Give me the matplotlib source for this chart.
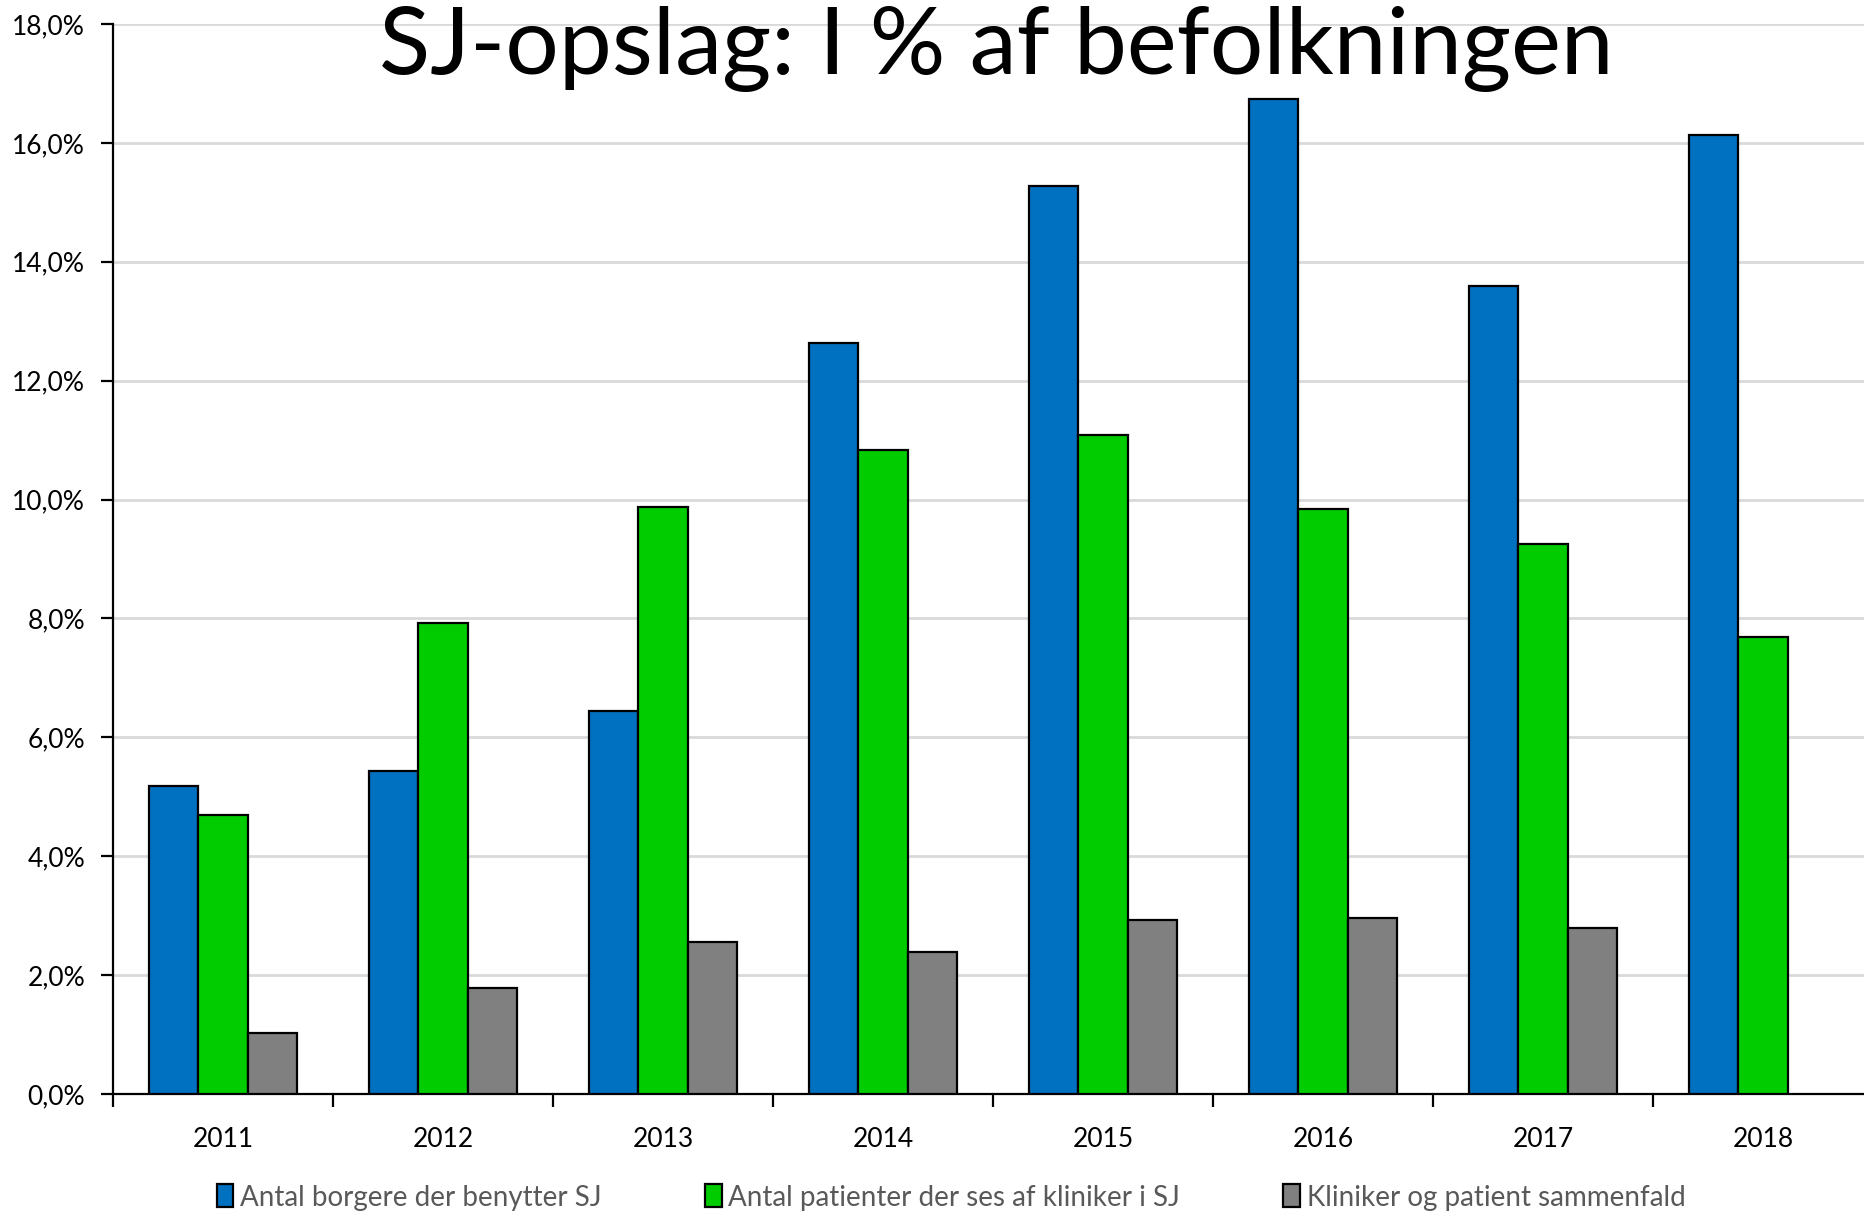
import numpy as np
import matplotlib.pyplot as plt
from matplotlib.patches import Patch
from matplotlib.ticker import FuncFormatter

plt.rcParams['font.family'] = ['Lato', 'DejaVu Sans']

years = ['2011', '2012', '2013', '2014', '2015', '2016', '2017', '2018']
borgere = [5.18, 5.44, 6.44, 12.64, 15.28, 16.74, 13.6, 16.14]
patienter = [4.7, 7.92, 9.88, 10.84, 11.08, 9.84, 9.26, 7.68]
sammenfald = [1.02, 1.78, 2.56, 2.38, 2.92, 2.96, 2.8, np.nan]

labels = ['Antal borgere der benytter SJ',
          'Antal patienter der ses af kliniker i SJ',
          'Kliniker og patient sammenfald']
colors = ['#0070C0', '#00CC00', '#808080']

fig = plt.figure(figsize=(18.65, 12.12), dpi=100)
ax = fig.add_axes([0.0606, 0.0974, 0.9437, 0.8828])

x = np.arange(len(years))
w = 0.224
for i, (vals, c) in enumerate(zip([borgere, patienter, sammenfald], colors)):
    ax.bar(x + (i - 1) * w, vals, w, color=c, edgecolor='black', linewidth=1.6, zorder=3)

ax.set_xlim(-0.5, 7.5)
ax.set_ylim(0, 18)
ax.set_yticks(np.arange(0, 19, 2))
ax.yaxis.set_major_formatter(FuncFormatter(lambda v, p: ('%.1f%%' % v).replace('.', ',')))
ax.grid(axis='y', color='#d9d9d9', linewidth=2, zorder=0)

ax.set_xticks(x)
ax.set_xticklabels(years)
ax.set_xticks(np.arange(-0.5, 8, 1), minor=True)
ax.tick_params(axis='x', which='major', length=0, pad=24, labelsize=19)
ax.tick_params(axis='x', which='minor', length=9, width=1.6, direction='out')
ax.tick_params(axis='y', length=9, width=1.6, direction='out', labelsize=19, pad=11)

for s in ['top', 'right']:
    ax.spines[s].set_visible(False)
for s in ['left', 'bottom']:
    ax.spines[s].set_linewidth(1.6)

fig.text(0.534, 0.939, 'SJ-opslag: I % af befolkningen', ha='center', va='baseline',
         fontsize=68, fontweight='normal')

handles = [Patch(facecolor=c, edgecolor='black', linewidth=1.6) for c in colors]
leg = fig.legend(handles, labels, loc='center', bbox_to_anchor=(0.51, 0.012), ncol=3,
                 frameon=False, fontsize=20, handlelength=0.6, handleheight=0.9,
                 handletextpad=0.25, columnspacing=3.7)
for t in leg.get_texts():
    t.set_color('#595959')

fig.savefig('out.png', dpi=100)
